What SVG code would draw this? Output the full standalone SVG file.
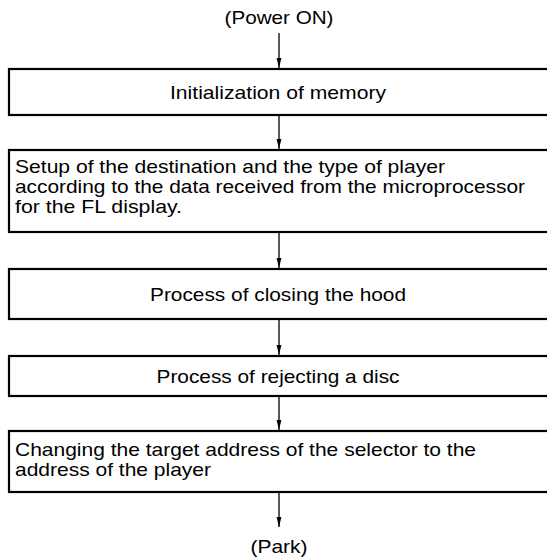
<svg xmlns="http://www.w3.org/2000/svg" width="547" height="558" viewBox="0 0 547 558">
<style>
text{font-family:"Liberation Sans",Arial,sans-serif;font-size:18.5px;fill:#000}
.c{text-anchor:middle}
.box{fill:#fff;stroke:#000;stroke-width:2.2}
.conn{stroke:#000;stroke-width:1.3;fill:none;marker-end:url(#ah)}
</style>
<defs>
<marker id="ah" markerUnits="userSpaceOnUse" markerWidth="10" markerHeight="6" refX="10" refY="3" orient="auto" viewBox="0 0 10 6">
<path d="M0,0.6 L10,3 L0,5.4 Z" fill="#000"/>
</marker>
</defs>
<rect width="547" height="558" fill="#fff"/>
<g id="connectors">
<line class="conn" x1="279" y1="33" x2="279" y2="68"/>
<line class="conn" x1="279" y1="116" x2="279" y2="149"/>
<line class="conn" x1="279" y1="233" x2="279" y2="268"/>
<line class="conn" x1="279" y1="320" x2="279" y2="355"/>
<line class="conn" x1="279" y1="397" x2="279" y2="430"/>
<line class="conn" x1="279" y1="493" x2="279" y2="527"/>
</g>
<g id="start"><text class="c" x="279" y="24" textLength="109" lengthAdjust="spacingAndGlyphs">(Power ON)</text></g>
<g id="n1"><rect class="box" x="9" y="69" width="560" height="46"/><text class="c" x="278" y="99" textLength="216" lengthAdjust="spacingAndGlyphs">Initialization of memory</text></g>
<g id="n2"><rect class="box" x="9" y="150" width="560" height="82"/>
<text x="15" y="172.5" textLength="430" lengthAdjust="spacingAndGlyphs">Setup of the destination and the type of player</text>
<text x="15" y="192.5" textLength="510" lengthAdjust="spacingAndGlyphs">according to the data received from the microprocessor</text>
<text x="15" y="212.5" textLength="167" lengthAdjust="spacingAndGlyphs">for the FL display.</text></g>
<g id="n3"><rect class="box" x="9" y="269" width="560" height="50"/><text class="c" x="278" y="301" textLength="256" lengthAdjust="spacingAndGlyphs">Process of closing the hood</text></g>
<g id="n4"><rect class="box" x="9" y="356" width="560" height="40"/><text class="c" x="278" y="383" textLength="243" lengthAdjust="spacingAndGlyphs">Process of rejecting a disc</text></g>
<g id="n5"><rect class="box" x="9" y="431" width="560" height="61"/>
<text x="15" y="456" textLength="461" lengthAdjust="spacingAndGlyphs">Changing the target address of the selector to the</text>
<text x="15" y="475.5" textLength="196" lengthAdjust="spacingAndGlyphs">address of the player</text></g>
<g id="end"><text class="c" x="279" y="553" textLength="57" lengthAdjust="spacingAndGlyphs">(Park)</text></g>
</svg>
